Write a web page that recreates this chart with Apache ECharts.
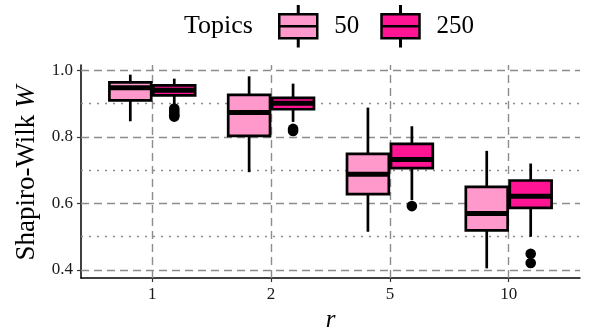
<!DOCTYPE html>
<html>
<head>
<meta charset="utf-8">
<script src="https://cdn.jsdelivr.net/npm/echarts@6/dist/echarts.min.js"></script>
<style>
  html, body { margin: 0; padding: 0; background: #fff; }
  #chart { width: 593px; height: 330px; }
</style>
</head>
<body>
<div id="chart"></div>
<script>
// categories on x axis (r)
const categories = ['1', '2', '5', '10']
// box stats per category: [min, q1, median, q3, max]
const topics50 = [
  [0.847, 0.910, 0.948, 0.964, 0.987],
  [0.694, 0.803, 0.873, 0.926, 0.982],
  [0.515, 0.628, 0.688, 0.749, 0.888],
  [0.405, 0.519, 0.570, 0.650, 0.758]
]
const topics250 = [
  [0.895, 0.925, 0.940, 0.955, 0.975],
  [0.845, 0.883, 0.901, 0.917, 0.960],
  [0.610, 0.706, 0.732, 0.779, 0.832],
  [0.500, 0.587, 0.622, 0.669, 0.720]
]
// outliers of the 250 series: [category index, value]
const outliers250 = [
  [0, 0.885], [0, 0.878], [0, 0.870], [0, 0.865], [0, 0.861],
  [1, 0.824], [1, 0.818],
  [2, 0.592],
  [3, 0.449], [3, 0.421]
]
const yTicks = [0.4, 0.6, 0.8, 1.0]
const yMinorTicks = [0.5, 0.7, 0.9]

const FONT = 'Liberation Serif'
const PINK = '#FF99CC'
const DEEP = '#FF1493'
const DODGE = 0.185   // box centre offset, share of one category step
const HALF = 0.176    // half box width, share of one category step

// category positions 0..3 on a value axis, padded 0.6 each side like ggplot
const catIndex = categories.map((c, i) => i)

const boxRenderer = (side) => (params, api) => {
  const band = api.size([1, 0])[0]
  const idx = api.value(0)
  const cx = api.coord([idx, 0])[0] + side * band * DODGE
  const hw = band * HALF
  const y = [1, 2, 3, 4, 5].map(i => api.coord([idx, api.value(i)])[1])
  const ln = { stroke: '#000', lineWidth: 2.7 }
  return {
    type: 'group',
    children: [
      { type: 'line', shape: { x1: cx, y1: y[4], x2: cx, y2: y[3] }, style: ln },
      { type: 'line', shape: { x1: cx, y1: y[1], x2: cx, y2: y[0] }, style: ln },
      { type: 'rect', shape: { x: cx - hw, y: y[3], width: 2 * hw, height: y[1] - y[3] },
        style: { fill: api.visual('color'), stroke: '#000', lineWidth: 2.7 } },
      { type: 'line', shape: { x1: cx - hw, y1: y[2], x2: cx + hw, y2: y[2] },
        style: { stroke: '#000', lineWidth: 5 } }
    ]
  }
}

const pointRenderer = (side) => (params, api) => {
  const band = api.size([1, 0])[0]
  const p = api.coord([api.value(0), api.value(1)])
  return {
    type: 'circle',
    shape: { cx: p[0] + side * band * DODGE, cy: p[1], r: 5.3 },
    style: { fill: '#000' }
  }
}

const gridStyle = (type) => ({ color: '#8c8c8c', width: 1.4, type: type })

const chart = echarts.init(document.getElementById('chart'))

chart.setOption({
  animation: false,
  textStyle: { fontFamily: FONT },
  title: {
    text: 'Topics',
    left: 184,
    top: 13,
    padding: 0,
    textStyle: { fontFamily: FONT, fontSize: 26, fontWeight: 'normal', color: '#000' }
  },
  legend: {
    data: ['50', '250'],
    left: 278,
    top: 5,
    padding: 0,
    itemWidth: 38,
    itemHeight: 40,
    itemGap: 21,
    icon: 'path://M18.75 0H19.25V8H18.75Z M0 8H38V20H0Z M0 20H38V32H0Z M18.75 32H19.25V40H18.75Z',
    itemStyle: { borderColor: '#000', borderWidth: 2.5 },
    textStyle: { fontFamily: FONT, fontSize: 25, color: '#000', padding: [0, 0, 0, 12] }
  },
  grid: { left: 81, right: 13, top: 65, bottom: 52, outerBoundsMode: 'none' },
  xAxis: {
    type: 'value',
    min: -0.6,
    max: 3.6,
    name: 'r',
    nameLocation: 'middle',
    nameGap: 30,
    nameTextStyle: { fontFamily: FONT, fontSize: 25, fontStyle: 'italic', color: '#000' },
    axisLine: { show: true, onZero: false, lineStyle: { color: '#000', width: 1.5 } },
    axisTick: { show: true, length: 4, customValues: catIndex, lineStyle: { color: '#333', width: 1.2 } },
    axisLabel: {
      customValues: catIndex,
      formatter: v => categories[v],
      color: '#1a1a1a', fontSize: 17, fontFamily: FONT, margin: 8
    },
    splitLine: { show: false }
  },
  yAxis: {
    type: 'value',
    min: 0.376,
    max: 1.016,
    name: 'Shapiro-Wilk {i|W}',
    nameLocation: 'middle',
    nameGap: 41,
    nameTextStyle: {
      fontFamily: FONT, fontSize: 27, color: '#000', padding: [0, 3, 0, 0],
      rich: { i: { fontFamily: FONT, fontSize: 27, fontStyle: 'italic', color: '#000' } }
    },
    axisLine: { show: true, onZero: false, lineStyle: { color: '#000', width: 1.5 } },
    axisTick: { show: true, length: 4, customValues: yTicks, lineStyle: { color: '#333', width: 1.2 } },
    axisLabel: {
      customValues: yTicks,
      color: '#1a1a1a', fontSize: 17, fontFamily: FONT, margin: 8,
      formatter: v => v.toFixed(1)
    },
    splitLine: { show: false }
  },
  series: [
    {
      name: 'grid',
      type: 'line',
      data: [],
      silent: true,
      markLine: {
        silent: true,
        z: 1,
        symbol: 'none',
        label: { show: false },
        data: [
          ...yTicks.map(v => ({ yAxis: v, lineStyle: gridStyle([8, 5]) })),
          ...yMinorTicks.map(v => ({ yAxis: v, lineStyle: gridStyle([2, 6]) })),
          ...catIndex.map(i => ({ xAxis: i, lineStyle: gridStyle([8, 5]) }))
        ]
      }
    },
    {
      name: '50',
      type: 'custom',
      z: 3,
      itemStyle: { color: PINK },
      renderItem: boxRenderer(-1),
      encode: { x: 0, y: [1, 2, 3, 4, 5] },
      data: topics50.map((d, i) => [i, ...d])
    },
    {
      name: '250',
      type: 'custom',
      z: 3,
      itemStyle: { color: DEEP },
      renderItem: boxRenderer(1),
      encode: { x: 0, y: [1, 2, 3, 4, 5] },
      data: topics250.map((d, i) => [i, ...d])
    },
    {
      name: 'outliers 250',
      type: 'custom',
      z: 4,
      itemStyle: { color: '#000' },
      renderItem: pointRenderer(1),
      encode: { x: 0, y: 1 },
      data: outliers250
    }
  ]
})

window.addEventListener('resize', () => chart.resize())
</script>
</body>
</html>
